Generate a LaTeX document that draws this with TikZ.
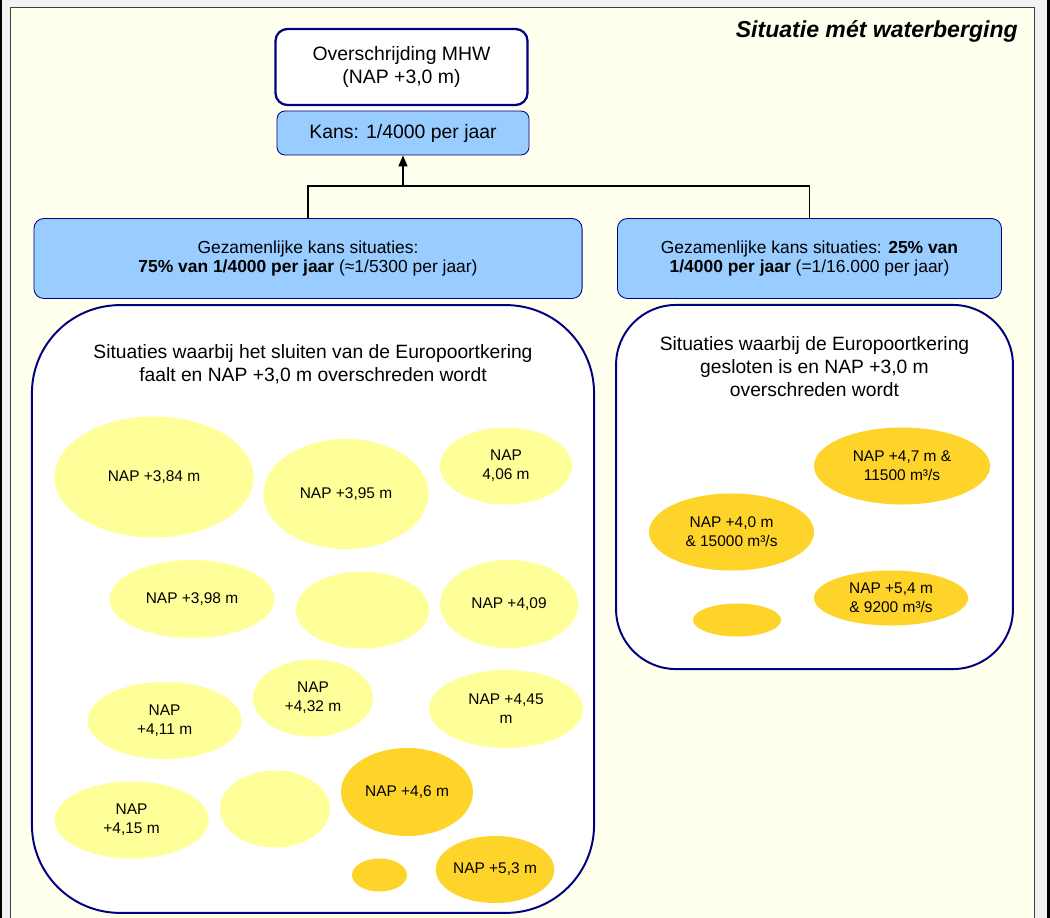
\documentclass[tikz,border=0pt]{standalone}
\usepackage{fontspec}
\setmainfont{Liberation Sans}
\usetikzlibrary{shapes.geometric, arrows.meta, positioning}
\definecolor{mhwnavy}{RGB}{0, 0, 128}
\definecolor{kansblue}{RGB}{153, 204, 255}
\definecolor{paleyellow}{RGB}{255, 255, 153}
\definecolor{deepyellow}{RGB}{255, 212, 42}
\definecolor{sheetcream}{RGB}{255, 255, 238}
\definecolor{sheetgrey}{RGB}{242, 242, 242}
\definecolor{framegrey}{RGB}{64, 64, 64}

\begin{document}
\begin{tikzpicture}[
    x=0.025cm, y=-0.025cm,
    every node/.style={align=center, font=\fontsize{11}{13.5}\selectfont},
    topbox/.style={rectangle, draw=mhwnavy, line width=1.6pt, fill=white,
                rounded corners=0.3cm, minimum width=6.3cm, minimum height=1.9cm,
                inner sep=0pt, font=\fontsize{13.8}{17}\selectfont},
    kansbox/.style={rectangle, draw=mhwnavy, line width=0.6pt, fill=kansblue,
                rounded corners=0.2cm, minimum height=1.1cm,
                inner sep=0pt, font=\fontsize{13.8}{17}\selectfont},
    sumbox/.style={kansbox, minimum height=2cm, rounded corners=0.25cm,
                font=\fontsize{12.4}{14.2}\selectfont},
    groupbox/.style={rectangle, draw=mhwnavy, line width=1.4pt, fill=white, inner sep=0pt},
    grouptitle/.style={inner sep=0pt, font=\fontsize{13.7}{16.4}\selectfont},
    pale/.style={ellipse, fill=paleyellow, inner sep=0pt},
    deep/.style={ellipse, fill=deepyellow, inner sep=0pt},
    link/.style={line width=1pt, black},
    arrow/.style={link, -{Triangle[length=7.8pt, width=6.4pt]}},
]
    \useasboundingbox (0,0) rectangle (1050,918);
    % sheet and frame
    \fill[black] (0,0) rectangle (1050,918);
    \fill[sheetgrey] (2,0) rectangle (1047,918);
    \fill[sheetcream] (10.5,7.5) rectangle (1034.5,918);
    \draw[framegrey, line width=1.1pt] (10.5,918) |- (1034.5,7.5) -- (1034.5,918);

    \node[anchor=east, inner sep=0pt, font=\fontsize{16.4}{19}\selectfont\bfseries\itshape]
          (heading) at (1018,31) {Situatie mét waterberging};

    % top of the tree
    \node[topbox] (mhw) at (401.5,67) {Overschrijding MHW\\(NAP +3,0 m)};
    \node[kansbox, minimum width=6.3cm] (kans) at (403,133) {Kans: 1/4000 per jaar};

    \node[sumbox, minimum width=13.7cm] (lsum) at (308,258.5)
          {Gezamenlijke kans situaties:\\\textbf{75\% van 1/4000 per jaar} (≈1/5300 per jaar)};
    \node[sumbox, minimum width=9.6cm] (rsum) at (809.5,258.5)
          {Gezamenlijke kans situaties: \textbf{25\% van}\\\textbf{1/4000 per jaar} (=1/16.000 per jaar)};

    \coordinate (split) at (403,186);
    \draw[link] (lsum.north) |- (split) -| (rsum.north);
    \draw[arrow] (split) -- (kans.south);

    % groups of situations
    \node[groupbox, rounded corners=2.2cm, minimum width=14.05cm, minimum height=15.19cm]
          (lgroup) at (313,609) {};
    \node[grouptitle] (ltitle) at (313,364.5)
          {Situaties waarbij het sluiten van de Europoortkering\\faalt en NAP +3,0 m overschreden wordt};
    \node[groupbox, rounded corners=1.5cm, minimum width=9.92cm, minimum height=9.1cm]
          (rgroup) at (814.5,487) {};
    \node[grouptitle] (rtitle) at (814.5,367)
          {Situaties waarbij de Europoortkering\\gesloten is en NAP +3,0 m\\overschreden wordt};

    % left group
    \node[pale, minimum width=4.975cm, minimum height=3.025cm] (e384) at (154,477) {NAP +3,84 m};
    \node[pale, minimum width=4.125cm, minimum height=2.75cm] (e395) at (346,494) {NAP +3,95 m};
    \node[pale, minimum width=3.3cm, minimum height=1.925cm] (e406) at (506,466) {NAP\\4,06 m};
    \node[pale, minimum width=4.125cm, minimum height=1.95cm] (e398) at (192,599) {NAP +3,98 m};
    \node[pale, minimum width=3.325cm, minimum height=1.925cm] (eblankA) at (362.5,610) {};
    \node[pale, minimum width=3.45cm, minimum height=2.2cm] (e409) at (509,604) {NAP +4,09};
    \node[pale, minimum width=3.85cm, minimum height=1.925cm] (e411) at (164.6,720.5) {NAP\\+4,11 m};
    \node[pale, minimum width=3.0cm, minimum height=1.925cm] (e432) at (313,698) {NAP\\+4,32 m};
    \node[pale, minimum width=3.85cm, minimum height=1.95cm] (e445) at (506,709) {NAP +4,45\\m};
    \node[pale, minimum width=3.85cm, minimum height=1.925cm] (e415) at (131.6,820) {NAP\\+4,15 m};
    \node[pale, minimum width=2.75cm, minimum height=1.925cm] (eblankB) at (275,809) {};
    \node[deep, minimum width=3.3cm, minimum height=2.2cm] (e46) at (407,792) {NAP +4,6 m};
    \node[deep, minimum width=1.375cm, minimum height=0.825cm] (esmallA) at (379.5,875) {};
    \node[deep, minimum width=2.75cm, minimum height=1.675cm] (e53) at (495,869.5) {NAP +5,3 m};

    % right group
    \node[deep, minimum width=4.4cm, minimum height=1.925cm] (e47) at (902,466) {NAP +4,7 m \&\\11500 m³/s};
    \node[deep, minimum width=4.125cm, minimum height=1.925cm] (e40) at (731.5,532) {NAP +4,0 m\\\& 15000 m³/s};
    \node[deep, minimum width=3.85cm, minimum height=1.375cm] (e54) at (891,598) {NAP +5,4 m\\\& 9200 m³/s};
    \node[deep, minimum width=2.2cm, minimum height=0.825cm] (esmallB) at (737,620) {};
\end{tikzpicture}
\end{document}
